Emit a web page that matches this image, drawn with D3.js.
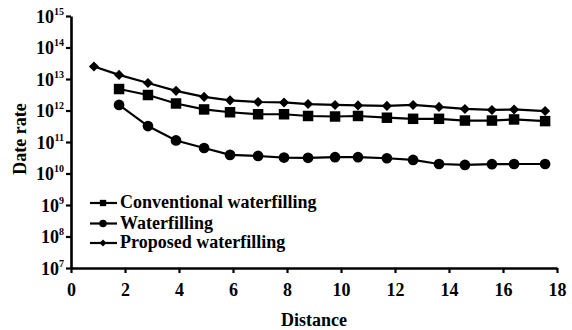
<!DOCTYPE html>
<html><head><meta charset="utf-8">
<script src="https://cdn.jsdelivr.net/npm/d3@7"></script>
<style>
html,body{margin:0;padding:0;background:#fff;}
</style></head>
<body><svg id="c" width="572" height="330"></svg>
<script>
// Data
const distance = [0.85,1.78,2.85,3.89,4.93,5.89,6.93,7.89,8.78,9.78,10.63,11.70,12.67,13.63,14.59,15.59,16.41,17.56];
const proposed = [2.5e13,1.35e13,7.5e12,4.2e12,2.7e12,2.1e12,1.86e12,1.8e12,1.6e12,1.5e12,1.45e12,1.4e12,1.5e12,1.3e12,1.12e12,1.04e12,1.08e12,0.96e12];
const conventional = [null,4.8e12,3.1e12,1.67e12,1.08e12,8.8e11,7.6e11,7.6e11,6.7e11,6.45e11,6.7e11,5.9e11,5.45e11,5.45e11,4.8e11,4.8e11,5.2e11,4.6e11];
const waterfilling = [null,1.5e12,3.2e11,1.12e11,6.45e10,3.9e10,3.6e10,3.2e10,3.15e10,3.3e10,3.3e10,3.05e10,2.7e10,2.0e10,1.87e10,1.97e10,2.0e10,2.0e10];
const xTicks = [0,2,4,6,8,10,12,14,16,18];
const yExponents = [7,8,9,10,11,12,13,14,15];
const seriesNames = ["Conventional waterfilling","Waterfilling","Proposed waterfilling"];

const FONT = '"Liberation Serif"';
const svg = d3.select("#c");
const x = d3.scaleLinear().domain([0,18]).range([71,557]);
const y = d3.scaleLog().domain([1e7,1e15]).range([268,16]);

function styleText(sel, size){
  return sel.attr("font-family",null).style("font-family",FONT).style("font-size",size+"px").style("font-weight","bold").style("fill","#000");
}

// axes
const xAxis = d3.axisBottom(x).tickValues(xTicks).tickSize(5).tickSizeOuter(0).tickPadding(10);
const gx = svg.append("g").attr("transform","translate(0,268)").call(xAxis);
gx.attr("font-family",null).attr("font-size",null);
gx.select(".domain").attr("stroke","#000").attr("stroke-width",2.6);
gx.selectAll(".tick line").attr("stroke","#000").attr("stroke-width",2.2);
styleText(gx.selectAll(".tick text"),18);

const yAxis = d3.axisLeft(y).tickValues(yExponents.map(e=>Math.pow(10,e))).tickSize(5).tickSizeOuter(0).tickFormat("");
const gy = svg.append("g").attr("transform","translate(71,0)").call(yAxis);
gy.attr("font-family",null).attr("font-size",null);
gy.select(".domain").attr("stroke","#000").attr("stroke-width",2.6);
gy.selectAll(".tick line").attr("stroke","#000").attr("stroke-width",2.2);
gy.selectAll(".tick text").each(function(d){
  const t = styleText(d3.select(this),18).attr("dy","0.36em").attr("x",-7);
  t.append("tspan").text("10");
  t.append("tspan").style("font-size","10px").attr("dy","-0.8em").text(Math.round(Math.log10(d)));
});

// axis labels
styleText(svg.append("text").attr("x",314).attr("y",326).attr("text-anchor","middle"),18).text("Distance");
styleText(svg.append("text").attr("transform","translate(26,139) rotate(-90)").attr("text-anchor","middle"),18).text("Date rate");

// series
const line = d3.line().defined(d=>d[1]!=null).x(d=>x(d[0])).y(d=>y(d[1]));
const data = [conventional, waterfilling, proposed];
const symbols = [d3.symbolSquare, d3.symbolCircle, d3.symbolDiamond2];
const sizes = [110, 90, 65];
data.forEach((vals,i)=>{
  const pts = distance.map((dd,j)=>[dd,vals[j]]);
  svg.append("path").attr("d",line(pts)).attr("fill","none").attr("stroke","#000").attr("stroke-width",2.2);
  svg.selectAll(null).data(pts.filter(p=>p[1]!=null)).enter().append("path")
    .attr("transform",p=>`translate(${x(p[0])},${y(p[1])})`)
    .attr("d",d3.symbol().type(symbols[i]).size(sizes[i]))
    .attr("fill","#000");
});

// legend
const legY = [203,223.5,243];
const legSizes = [40,45,32];
seriesNames.forEach((n,i)=>{
  const g = svg.append("g").attr("transform",`translate(0,${legY[i]})`);
  g.append("line").attr("x1",90).attr("x2",117).attr("y1",0).attr("y2",0).attr("stroke","#000").attr("stroke-width",2.2);
  g.append("path").attr("transform","translate(103,0)").attr("d",d3.symbol().type(symbols[i]).size(legSizes[i])).attr("fill","#000");
  styleText(g.append("text").attr("x",120).attr("y",0).attr("dy","0.3em"),18).text(n);
});
</script></body></html>
